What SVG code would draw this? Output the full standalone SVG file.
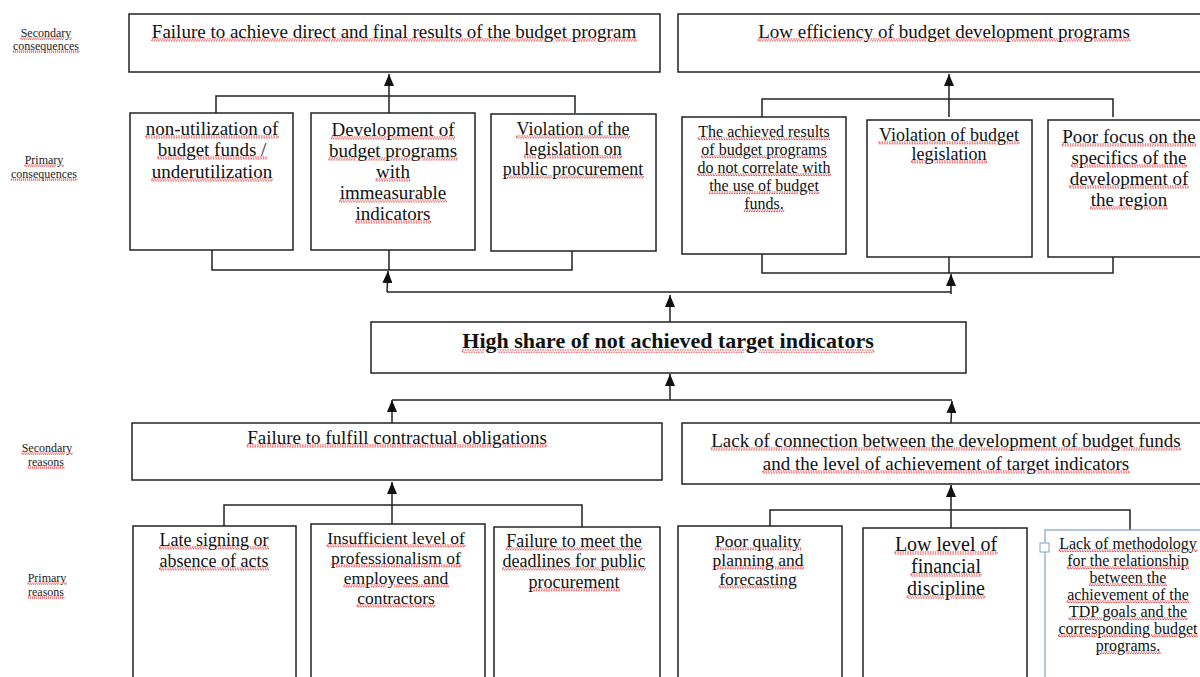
<svg xmlns="http://www.w3.org/2000/svg" width="1200" height="677" viewBox="0 0 1200 677">
<style>
.box{fill:#fff;stroke:#222;stroke-width:1.5}
.bbox{fill:#fff;stroke:#7f9fd0;stroke-width:1.2}
.ln{fill:none;stroke:#222;stroke-width:1.5}
.t{font-family:"Liberation Serif","Times New Roman",serif;text-anchor:middle;text-decoration:underline;fill:none;stroke:#e02020;stroke-width:0.9;stroke-dasharray:1.5 1}
.t tspan{fill:#111;stroke:none}
.f20{font-size:20px}
.f19{font-size:19px}
.f18{font-size:18px}
.f17{font-size:17.5px}
.f16{font-size:16px}
.lab{font-family:"Liberation Serif",serif;font-size:12px;text-anchor:middle;text-decoration:underline;fill:none;stroke:#e02020;stroke-width:0.8;stroke-dasharray:1.2 0.8}
.lab tspan{fill:#222;stroke:none}
.bold{font-size:22px;font-weight:bold}
</style>
<defs>
<marker id="ah" markerWidth="12" markerHeight="10" refX="12" refY="5" orient="auto" markerUnits="userSpaceOnUse" viewBox="0 0 12 10">
<path d="M0,0 L12,5 L0,10 Z" fill="#111"/>
</marker>
</defs>
<rect width="1200" height="677" fill="#fff"/>
<g id="labels">
<text class="lab"><tspan x="46" y="37">Secondary</tspan></text>
<text class="lab"><tspan x="46" y="50">consequences</tspan></text>
<text class="lab"><tspan x="44" y="164">Primary</tspan></text>
<text class="lab"><tspan x="44" y="178">consequences</tspan></text>
<text class="lab"><tspan x="47" y="452">Secondary</tspan></text>
<text class="lab"><tspan x="46" y="466">reasons</tspan></text>
<text class="lab"><tspan x="47" y="582">Primary</tspan></text>
<text class="lab"><tspan x="46" y="596">reasons</tspan></text>
</g>
<g id="connectors">
<path class="ln" d="M216,113 V96 H575 V113 M389,113 V96"/>
<line class="ln" x1="389" y1="96" x2="389" y2="74" marker-end="url(#ah)"/>
<path class="ln" d="M762,117 V99 H1113 V117 M949,117 V99"/>
<line class="ln" x1="949" y1="99" x2="949" y2="74" marker-end="url(#ah)"/>
<path class="ln" d="M212,250 V270 H572 V251 M389,250 V270"/>
<path class="ln" d="M762,254 V273 H1113 V257 M949,257 V273"/>
<path class="ln" d="M387,292 H951"/>
<line class="ln" x1="387" y1="292" x2="388" y2="271" marker-end="url(#ah)"/>
<line class="ln" x1="951" y1="294" x2="951" y2="274" marker-end="url(#ah)"/>
<line class="ln" x1="670" y1="322" x2="670" y2="295" marker-end="url(#ah)"/>
<path class="ln" d="M392,400 H952"/>
<line class="ln" x1="670" y1="400" x2="670" y2="374" marker-end="url(#ah)"/>
<line class="ln" x1="392" y1="423" x2="392" y2="400" marker-end="url(#ah)"/>
<line class="ln" x1="951" y1="423" x2="952" y2="401" marker-end="url(#ah)"/>
<path class="ln" d="M224,526 V505 H582 V527"/>
<line class="ln" x1="392" y1="524" x2="392" y2="482" marker-end="url(#ah)"/>
<path class="ln" d="M770,527 V510 H1130 V530 M951,530 V510"/>
<line class="ln" x1="951" y1="510" x2="951" y2="485" marker-end="url(#ah)"/>
</g>
<g id="n-sec-cons-1">
<rect class="box" x="129" y="14" width="531" height="58"/>
<text class="t f19"><tspan x="394" y="38">Failure to achieve direct and final results of the budget program</tspan></text>
</g>
<g id="n-sec-cons-2">
<rect class="box" x="678" y="14" width="530" height="58"/>
<text class="t f19"><tspan x="944" y="38">Low efficiency of budget development programs</tspan></text>
</g>
<g id="n-pc-1">
<rect class="box" x="130" y="113" width="163" height="137"/>
<text class="t f19"><tspan x="212" y="135">non-utilization of</tspan><tspan x="212" y="156">budget funds /</tspan><tspan x="212" y="178">underutilization</tspan></text>
</g>
<g id="n-pc-2">
<rect class="box" x="311" y="113" width="164" height="137"/>
<text class="t f19"><tspan x="393" y="136">Development of</tspan><tspan x="393" y="157">budget programs</tspan><tspan x="393" y="178">with</tspan><tspan x="393" y="199">immeasurable</tspan><tspan x="393" y="220">indicators</tspan></text>
</g>
<g id="n-pc-3">
<rect class="box" x="491" y="114" width="165" height="137"/>
<text class="t f18"><tspan x="573" y="135">Violation of the</tspan><tspan x="573" y="155">legislation on</tspan><tspan x="573" y="175">public procurement</tspan></text>
</g>
<g id="n-pc-4">
<rect class="box" x="682" y="117" width="164" height="137"/>
<text class="t f16"><tspan x="764" y="137">The achieved results</tspan><tspan x="764" y="155">of budget programs</tspan><tspan x="764" y="173">do not correlate with</tspan><tspan x="764" y="191">the use of budget</tspan><tspan x="764" y="209">funds.</tspan></text>
</g>
<g id="n-pc-5">
<rect class="box" x="867" y="120" width="165" height="137"/>
<text class="t f18"><tspan x="949" y="141">Violation of budget</tspan><tspan x="949" y="160">legislation</tspan></text>
</g>
<g id="n-pc-6">
<rect class="box" x="1048" y="120" width="162" height="137"/>
<text class="t f19"><tspan x="1129" y="143">Poor focus on the</tspan><tspan x="1129" y="164">specifics of the</tspan><tspan x="1129" y="185">development of</tspan><tspan x="1129" y="206">the region</tspan></text>
</g>
<g id="n-core">
<rect class="box" x="371" y="322" width="595" height="51"/>
<text class="t bold"><tspan x="668" y="348">High share of not achieved target indicators</tspan></text>
</g>
<g id="n-sec-r-1">
<rect class="box" x="132" y="423" width="530" height="57"/>
<text class="t f19"><tspan x="397" y="444">Failure to fulfill contractual obligations</tspan></text>
</g>
<g id="n-sec-r-2">
<rect class="box" x="682" y="423" width="526" height="61"/>
<text class="t f19"><tspan x="946" y="447">Lack of connection between the development of budget funds</tspan><tspan x="946" y="470">and the level of achievement of target indicators</tspan></text>
</g>
<g id="n-pr-1">
<rect class="box" x="133" y="526" width="163" height="160"/>
<text class="t f18"><tspan x="214" y="546">Late signing or</tspan><tspan x="214" y="567">absence of acts</tspan></text>
</g>
<g id="n-pr-2">
<rect class="box" x="311" y="524" width="174" height="162"/>
<text class="t f17"><tspan x="396" y="544">Insufficient level of</tspan><tspan x="396" y="564">professionalism of</tspan><tspan x="396" y="584">employees and</tspan><tspan x="396" y="604">contractors</tspan></text>
</g>
<g id="n-pr-3">
<rect class="box" x="494" y="527" width="166" height="159"/>
<text class="t f18"><tspan x="574" y="547">Failure to meet the</tspan><tspan x="574" y="567">deadlines for public</tspan><tspan x="574" y="588">procurement</tspan></text>
</g>
<g id="n-pr-4">
<rect class="box" x="678" y="526" width="164" height="160"/>
<text class="t f17"><tspan x="758" y="547">Poor quality</tspan><tspan x="758" y="566">planning and</tspan><tspan x="758" y="585">forecasting</tspan></text>
</g>
<g id="n-pr-5">
<rect class="box" x="863" y="528" width="164" height="158"/>
<text class="t f20"><tspan x="946" y="551">Low level of</tspan><tspan x="946" y="573">financial</tspan><tspan x="946" y="595">discipline</tspan></text>
</g>
<g id="n-pr-6">
<rect class="bbox" x="1045" y="530" width="165" height="156"/>
<rect x="1040" y="543" width="9" height="9" fill="#fff" stroke="#7f9fd0" stroke-width="1"/>
<text class="t f16"><tspan x="1128" y="549">Lack of methodology</tspan><tspan x="1128" y="566">for the relationship</tspan><tspan x="1128" y="583">between the</tspan><tspan x="1128" y="600">achievement of the</tspan><tspan x="1128" y="617">TDP goals and the</tspan><tspan x="1128" y="634">corresponding budget</tspan><tspan x="1128" y="651">programs.</tspan></text>
</g>
</svg>
